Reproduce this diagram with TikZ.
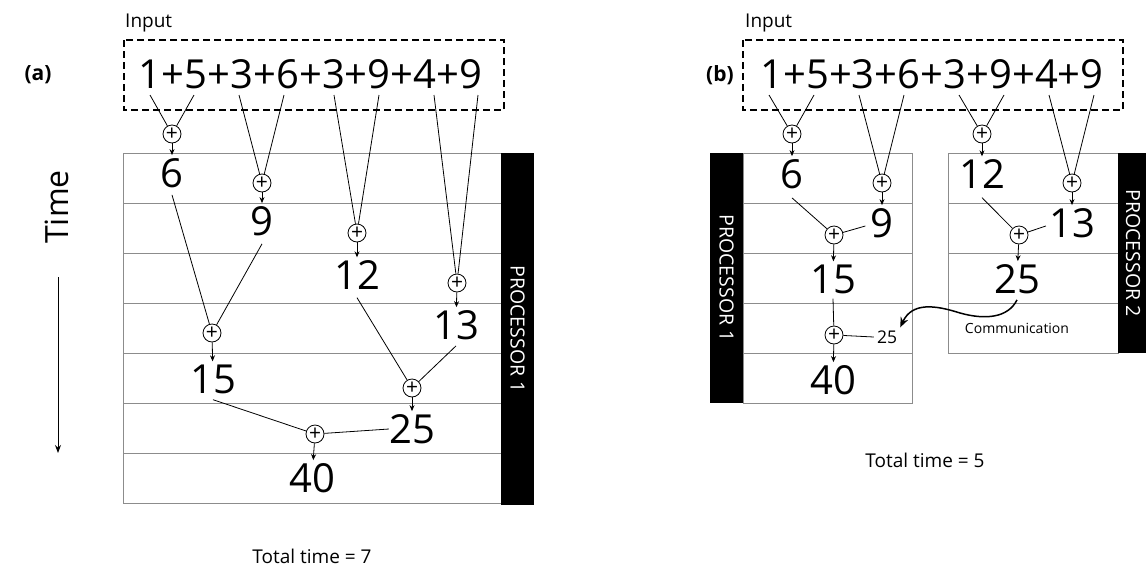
\documentclass[tikz,border=0pt]{standalone}
\usepackage{fontspec}
\setmainfont{Open Sans}
\usetikzlibrary{arrows.meta}
\begin{document}
\begin{tikzpicture}[x=1pt,y=-1pt,
  num/.style={font=\fontsize{40}{40}\selectfont, inner sep=3pt},
  inp/.style={font=\fontsize{40}{40}\selectfont, inner sep=0pt},
  lab/.style={font=\fontsize{19}{19}\selectfont, inner sep=0pt},
  panellab/.style={font=\fontsize{21}{21}\selectfont\bfseries, inner sep=0pt},
  small/.style={font=\fontsize{17.5}{17.5}\selectfont, inner sep=3pt},
  comm/.style={font=\fontsize{14}{14}\selectfont, inner sep=0pt},
  plus/.style={circle, draw, line width=0.8pt, minimum size=18pt, inner sep=0pt, font=\fontsize{21}{21}\selectfont, fill=white},
  conn/.style={line width=0.8pt},
  arr/.style={line width=0.8pt, -{Stealth[length=6pt,width=5pt]}},
  gridl/.style={draw=black!45, line width=1pt},
  dbox/.style={draw, line width=1.5pt, dash pattern=on 7pt off 4pt},
  proc/.style={fill=black},
  proctext/.style={text=white, font=\fontsize{19.5}{19.5}\selectfont, inner sep=0pt}
]
\useasboundingbox (0,0) rectangle (1146,571);

% ================= panel (a) =================
\node[panellab] (la) at (38,75) {(a)};
\node[lab, anchor=base west] (inputa) at (125,27) {Input};
\draw[dbox] (124,40) rectangle (504,110);
\node[inp] (stra) at (310.5,74) {1+5+3+6+3+9+4+9};

% grid
\draw[gridl] (123,153) rectangle (501,503);
\foreach \yy in {203,253,303,353,403,453} \draw[gridl] (123,\yy) -- (501,\yy);
\fill[proc] (501,153) rectangle (534,505);
\node[proctext, rotate=-90] (proca) at (517.5,329) {PROCESSOR 1};

% time axis
\node[font=\fontsize{32}{32}\selectfont, rotate=90, inner sep=0pt] (time) at (57,207) {Time};
\coordinate (t1) at (58,277);
\coordinate (t2) at (58,453);
\draw[line width=1pt, -{Stealth[length=8pt,width=6pt]}] (t1) -- (t2);

% tails of input digits
\coordinate (a1) at (150,95);
\coordinate (a2) at (194,95);
\coordinate (a3) at (239,95);
\coordinate (a4) at (284,95);
\coordinate (a5) at (334,95);
\coordinate (a6) at (379,95);
\coordinate (a7) at (434,95);
\coordinate (a8) at (478,95);

% numbers
\node[num] (n6a) at (172,173) {6};
\node[num] (n9a) at (262,221) {9};
\node[num] (n12a) at (357,275) {12};
\node[num] (n13a) at (456,325) {13};
\node[num] (n15a) at (213,379) {15};
\node[num] (n25a) at (412,429) {25};
\node[num] (n40a) at (312,478) {40};

% plus circles
\node[plus] (pa1) at (172,134) {+};
\node[plus] (pa2) at (262,183) {+};
\node[plus] (pa3) at (357,233) {+};
\node[plus] (pa4) at (457,283) {+};
\node[plus] (pa5) at (212,333) {+};
\node[plus] (pa6) at (412,388) {+};
\node[plus] (pa7) at (315,434) {+};

\draw[conn] (a1) -- (pa1); \draw[conn] (a2) -- (pa1);
\draw[conn] (a3) -- (pa2); \draw[conn] (a4) -- (pa2);
\draw[conn] (a5) -- (pa3); \draw[conn] (a6) -- (pa3);
\draw[conn] (a7) -- (pa4); \draw[conn] (a8) -- (pa4);
\draw[arr] (pa1) -- (n6a);
\draw[arr] (pa2) -- (n9a);
\draw[arr] (pa3) -- (n12a);
\draw[arr] (pa4) -- (n13a);
\draw[conn] ([yshift=-4pt]n6a.south) -- (pa5);
\draw[conn] ([yshift=-5pt]n9a.south) -- (pa5);
\draw[arr] (pa5) -- (n15a);
\draw[conn] ([yshift=-5pt]n12a.south) -- (pa6);
\draw[conn] ([yshift=-3pt]n13a.south) -- (pa6);
\draw[arr] (pa6) -- (n25a);
\draw[conn] ([yshift=-3pt]n15a.south) -- (pa7);
\draw[conn] ([xshift=3pt]n25a.west) -- (pa7);
\draw[arr] (pa7) -- (n40a);

\node[lab] (tota) at (312,556) {Total time = 7};

% ================= panel (b) =================
\node[panellab] (lb) at (720,75) {(b)};
\node[lab, anchor=base west] (inputb) at (745,27) {Input};
\draw[dbox] (743,40) rectangle (1123,110);
\node[inp] (strb) at (932,74) {1+5+3+6+3+9+4+9};

% processor 1 grid
\draw[gridl] (743,153) rectangle (912,403);
\foreach \yy in {203,253,303,353} \draw[gridl] (743,\yy) -- (912,\yy);
\fill[proc] (710,153) rectangle (743,403);
\node[proctext, rotate=-90] (procb1) at (726.5,278) {PROCESSOR 1};

% processor 2 grid
\draw[gridl] (948,153) rectangle (1118,353);
\foreach \yy in {203,253,303} \draw[gridl] (948,\yy) -- (1118,\yy);
\fill[proc] (1118,153) rectangle (1146,353);
\node[proctext, rotate=-90] (procb2) at (1133,253) {PROCESSOR 2};

% tails
\coordinate (b1) at (769,95);
\coordinate (b2) at (814,95);
\coordinate (b3) at (859,95);
\coordinate (b4) at (904,95);
\coordinate (b5) at (959,95);
\coordinate (b6) at (1004,95);
\coordinate (b7) at (1049,95);
\coordinate (b8) at (1094,95);

% numbers
\node[num] (n6b) at (792,174) {6};
\node[num] (n9b) at (882,223) {9};
\node[num] (n12b) at (982,174) {12};
\node[num] (n13b) at (1072,223) {13};
\node[num] (n15b) at (833,279) {15};
\node[num] (n25b) at (1017,279) {25};
\node[num] (n40b) at (833,380) {40};
\node[small] (n25s) at (887,337) {25};
\node[comm] (commt) at (1017,328) {Communication};

% plus circles
\node[plus] (pb1) at (792,134) {+};
\node[plus] (pb2) at (882,183) {+};
\node[plus] (pb3) at (982,134) {+};
\node[plus] (pb4) at (1072,183) {+};
\node[plus] (qb1) at (834,235) {+};
\node[plus] (qb2) at (1019,235) {+};
\node[plus] (qb3) at (834,335) {+};

\draw[conn] (b1) -- (pb1); \draw[conn] (b2) -- (pb1);
\draw[conn] (b3) -- (pb2); \draw[conn] (b4) -- (pb2);
\draw[conn] (b5) -- (pb3); \draw[conn] (b6) -- (pb3);
\draw[conn] (b7) -- (pb4); \draw[conn] (b8) -- (pb4);
\draw[arr] (pb1) -- (n6b);
\draw[arr] (pb2) -- (n9b);
\draw[arr] (pb3) -- (n12b);
\draw[arr] (pb4) -- (n13b);
\draw[conn] ([yshift=-6pt]n6b.south) -- (qb1);
\draw[conn] ([xshift=-2pt,yshift=-3pt]n9b.west) -- (qb1);
\draw[arr] (qb1) -- (n15b);
\draw[conn] ([yshift=-6pt]n12b.south) -- (qb2);
\draw[conn] ([yshift=-3pt]n13b.west) -- (qb2);
\draw[arr] (qb2) -- (n25b);
\draw[conn] ([yshift=-2pt]n15b.south) -- (qb3);
\draw[conn] (n25s.west) -- (qb3);
\draw[arr] (qb3) -- (n40b);

\coordinate (cm) at (960,313);
\draw[line width=1.5pt, -{Stealth[length=10pt,width=8pt]}]
  ([yshift=-3pt]n25b.south) .. controls (1008,318) and (985,320) .. (cm)
  .. controls (935,305) and (912,302) .. (n25s.north east);

\node[lab] (totb) at (925,460) {Total time = 5};
\end{tikzpicture}
\end{document}
